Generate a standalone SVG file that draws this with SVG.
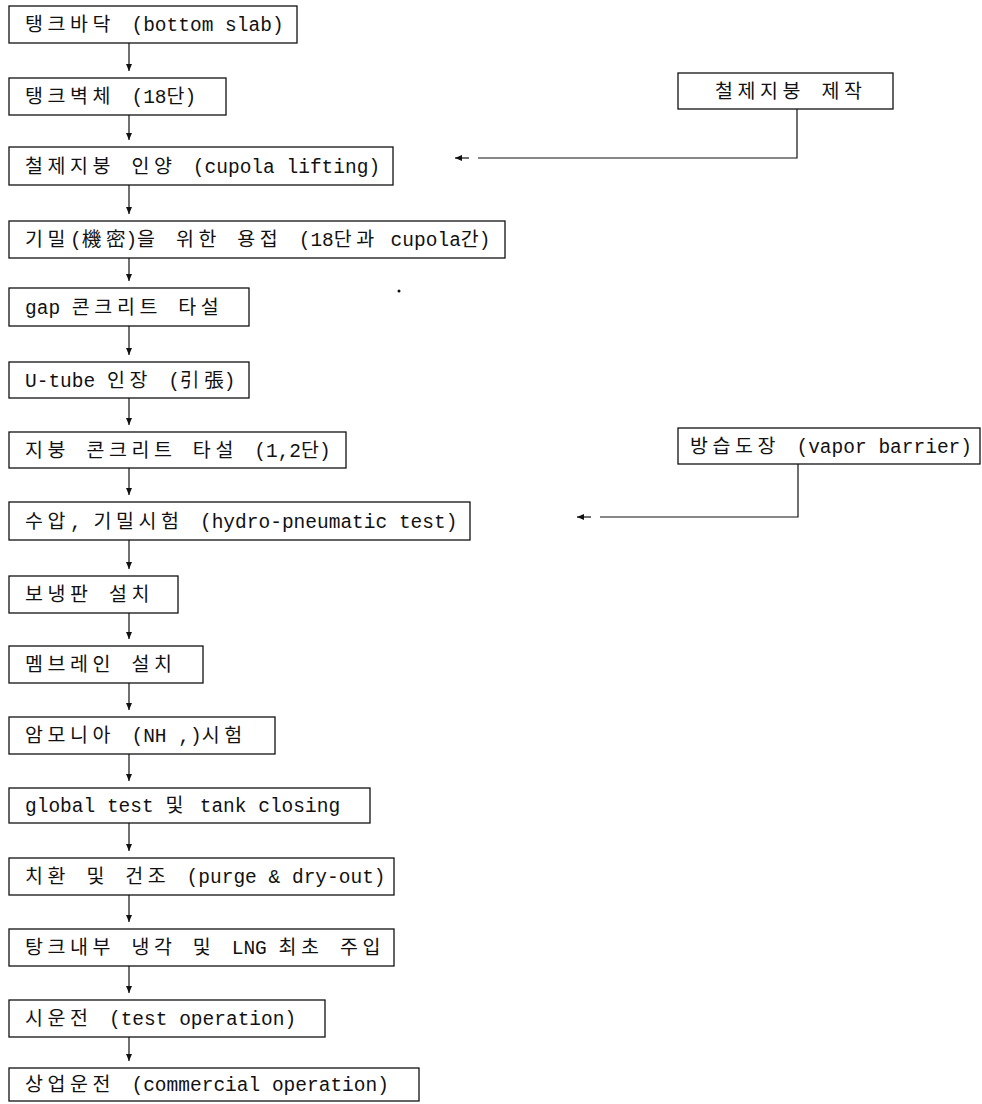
<svg xmlns="http://www.w3.org/2000/svg" width="982" height="1104" viewBox="0 0 982 1104">
<style>
.bx{fill:#fff;stroke:#111;stroke-width:1.3}
.t{font-family:"Liberation Mono","Noto Sans CJK KR",monospace;font-size:19.5px;fill:#111}
.k{letter-spacing:4.6px}
.ln{fill:none;stroke:#111;stroke-width:1.2}
</style>
<defs>
<marker id="ah" markerWidth="8" markerHeight="8" refX="7" refY="4" orient="auto" markerUnits="userSpaceOnUse">
<path d="M0,1 L7,4 L0,7 Z" fill="#111"/>
</marker>
</defs>
<rect width="982" height="1104" fill="#fff"/>
<g id="connectors">
<path class="ln" d="M129,43 V71" marker-end="url(#ah)"/>
<path class="ln" d="M129,115 V140" marker-end="url(#ah)"/>
<path class="ln" d="M129,185 V214" marker-end="url(#ah)"/>
<path class="ln" d="M129,258 V281" marker-end="url(#ah)"/>
<path class="ln" d="M129,326 V355" marker-end="url(#ah)"/>
<path class="ln" d="M129,398 V425" marker-end="url(#ah)"/>
<path class="ln" d="M129,468 V495" marker-end="url(#ah)"/>
<path class="ln" d="M129,540 V569" marker-end="url(#ah)"/>
<path class="ln" d="M129,613 V639" marker-end="url(#ah)"/>
<path class="ln" d="M129,683 V710" marker-end="url(#ah)"/>
<path class="ln" d="M129,754 V781" marker-end="url(#ah)"/>
<path class="ln" d="M129,823 V851" marker-end="url(#ah)"/>
<path class="ln" d="M129,895 V922" marker-end="url(#ah)"/>
<path class="ln" d="M129,966 V993" marker-end="url(#ah)"/>
<path class="ln" d="M129,1037 V1061" marker-end="url(#ah)"/>
<path class="ln" d="M797,109 V158 H478"/>
<path class="ln" d="M469,158 H455" marker-end="url(#ah)"/>
<path class="ln" d="M798,464 V517 H600"/>
<path class="ln" d="M591,517 H577" marker-end="url(#ah)"/>
</g>
<g id="n1"><rect class="bx" x="9" y="6" width="288" height="37"/><text class="t" x="25" y="31"><tspan class="k">탱크바닥 </tspan>(bottom slab)</text></g>
<g id="n2"><rect class="bx" x="9" y="78" width="217" height="37"/><text class="t" x="25" y="103"><tspan class="k">탱크벽체 </tspan>(18단)</text></g>
<g id="n3"><rect class="bx" x="9" y="147" width="384" height="38"/><text class="t" x="25" y="173"><tspan class="k">철제지붕 인양 </tspan>(cupola lifting)</text></g>
<g id="n4"><rect class="bx" x="9" y="221" width="496" height="37"/><text class="t" x="25" y="246"><tspan class="k">기밀</tspan>(<tspan class="k">機</tspan>密)<tspan class="k">을 위한 용접 </tspan>(18<tspan class="k">단과</tspan> cupola간)</text></g>
<g id="n5"><rect class="bx" x="9" y="288" width="240" height="38"/><text class="t" x="25" y="314">gap <tspan class="k">콘크리트 타설</tspan></text></g>
<g id="n6"><rect class="bx" x="9" y="362" width="240" height="36"/><text class="t" x="25" y="387">U-tube <tspan class="k">인장 </tspan>(<tspan class="k">引</tspan>張)</text></g>
<g id="n7"><rect class="bx" x="9" y="432" width="337" height="36"/><text class="t" x="25" y="457"><tspan class="k">지붕 콘크리트 타설 </tspan>(1,2단)</text></g>
<g id="n8"><rect class="bx" x="9" y="502" width="461" height="38"/><text class="t" x="25" y="528"><tspan class="k">수압</tspan>, <tspan class="k">기밀시험 </tspan>(hydro-pneumatic test)</text></g>
<g id="n9"><rect class="bx" x="9" y="576" width="169" height="37"/><text class="t" x="25" y="601"><tspan class="k">보냉판 설치</tspan></text></g>
<g id="n10"><rect class="bx" x="9" y="646" width="194" height="37"/><text class="t" x="25" y="671"><tspan class="k">멤브레인 설치</tspan></text></g>
<g id="n11"><rect class="bx" x="9" y="717" width="266" height="37"/><text class="t" x="25" y="742"><tspan class="k">암모니아 </tspan>(NH ,)<tspan class="k">시험</tspan></text></g>
<g id="n12"><rect class="bx" x="9" y="788" width="361" height="35"/><text class="t" x="25" y="812">global test <tspan class="k">및</tspan> tank closing</text></g>
<g id="n13"><rect class="bx" x="9" y="858" width="385" height="37"/><text class="t" x="25" y="883"><tspan class="k">치환 및 건조 </tspan>(purge &amp; dry-out)</text></g>
<g id="n14"><rect class="bx" x="9" y="929" width="385" height="37"/><text class="t" x="25" y="954"><tspan class="k">탕크내부 냉각 및 </tspan>LNG <tspan class="k">최초 주입</tspan></text></g>
<g id="n15"><rect class="bx" x="9" y="1000" width="316" height="37"/><text class="t" x="25" y="1025"><tspan class="k">시운전 </tspan>(test operation)</text></g>
<g id="n16"><rect class="bx" x="9" y="1068" width="410" height="33"/><text class="t" x="25" y="1091"><tspan class="k">상업운전 </tspan>(commercial operation)</text></g>
<g id="nA"><rect class="bx" x="678" y="73" width="215" height="36"/><text class="t" x="715" y="98"><tspan class="k">철제지붕 제작</tspan></text></g>
<g id="nB"><rect class="bx" x="678" y="428" width="302" height="36"/><text class="t" x="690" y="453"><tspan class="k">방습도장 </tspan>(vapor barrier)</text></g>
<circle cx="399" cy="291" r="1.5" fill="#111"/>
</svg>
